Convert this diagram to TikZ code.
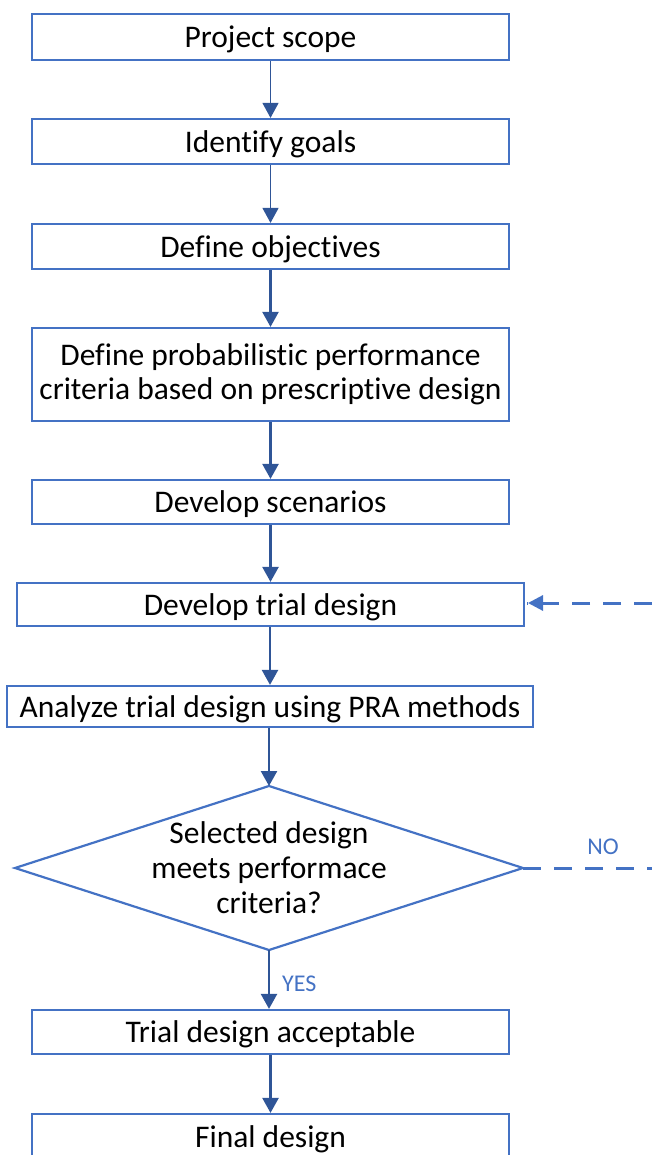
\documentclass[tikz,border=0pt]{standalone}
\usepackage{fontspec}
\setmainfont{Carlito}[Ligatures=NoCommon]
\usetikzlibrary{arrows.meta}
\definecolor{boxblue}{HTML}{4472C4}
\definecolor{arrowblue}{HTML}{2F5597}
% lower a single-line label slightly without changing its box
\newcommand{\lowered}[1]{\raisebox{-2.5pt}[\height][\depth]{#1}}
\tikzset{
  stepbox/.style={draw=boxblue, line width=2.2pt, fill=white, inner sep=0pt,
    minimum width=477pt, align=center, font=\fontsize{31.5}{34}\selectfont},
  decisiontext/.style={inner sep=0pt, align=center,
    font=\fontsize{31.5}{35}\selectfont},
  decisionedge/.style={draw=boxblue, line width=2.2pt, line join=miter},
  flow/.style={draw=arrowblue, line width=2.4pt,
    -{Triangle[length=15pt,width=16pt]}},
  thinflow/.style={draw=arrowblue, line width=1.3pt,
    -{Triangle[length=15pt,width=16pt]}},
  loopline/.style={draw=boxblue, line width=3pt, dash pattern=on 18pt off 13pt},
  branch/.style={text=boxblue, font=\fontsize{24}{28}\selectfont, inner sep=0pt}
}
\begin{document}
\begin{tikzpicture}[x=1pt,y=-1pt]
\useasboundingbox (0,0) rectangle (654,1155);
\clip (0,0) rectangle (654,1155);

\node[stepbox, minimum height=46pt] (scope) at (270.5,37) {\lowered{Project scope}};
\node[stepbox, minimum height=45pt] (goals) at (270.5,141.5) {\lowered{Identify goals}};
\node[stepbox, minimum height=45pt] (objectives) at (270.5,246.5) {\lowered{Define objectives}};
\node[stepbox, minimum height=93pt] (criteria) at (270.5,374.5)
  {Define probabilistic performance\\criteria based on prescriptive design};
\node[stepbox, minimum height=44pt] (scenarios) at (270.5,502) {\lowered{Develop scenarios}};
\node[stepbox, minimum height=43pt, minimum width=507pt] (trial) at (270.5,604.5) {\lowered{Develop trial design}};
\node[stepbox, minimum height=41pt, minimum width=526pt] (analyze) at (270,706.5) {\lowered{Analyze trial design using PRA methods}};

% decision diamond
\coordinate (dtop) at (269,786);
\coordinate (dright) at (523,868);
\coordinate (dbottom) at (269,950);
\coordinate (dleft) at (15,868);
\draw[decisionedge] (dtop) -- (dright) -- (dbottom) -- (dleft) -- cycle;
\node[decisiontext] (meets) at (269,868) {Selected design\\meets performace\\criteria?};

\node[stepbox, minimum height=44pt] (acceptable) at (270.5,1032) {\lowered{Trial design acceptable}};
\node[stepbox, minimum height=46pt] (final) at (270.5,1137) {\lowered{Final design}};

\draw[thinflow] (scope) -- (goals);
\draw[thinflow] (goals) -- (objectives);
\draw[flow] (objectives) -- (criteria);
\draw[flow] (criteria) -- (scenarios);
\draw[flow] (scenarios) -- (trial);
\draw[flow] (trial.south -| analyze.north) -- (analyze);
\draw[flow] (analyze.south -| dtop) -- (dtop);
\draw[flow] (dbottom) -- (dbottom |- acceptable.north)
  node[branch, midway, anchor=west, xshift=12pt, yshift=-4pt] (yes) {YES};
\draw[flow] (acceptable) -- (final);

\coordinate (noend) at (652,868);
\coordinate (backstart) at (652,603);
\draw[loopline] (dright) -- (noend)
  node[branch, pos=0.62, above, yshift=12pt] (no) {NO};
\draw[loopline] (backstart) -- ([xshift=2pt]trial.east |- backstart);
\fill[boxblue] ([xshift=3pt]trial.east |- backstart) -- ++(15,-8) -- ++(0,16) -- cycle;
\end{tikzpicture}
\end{document}
